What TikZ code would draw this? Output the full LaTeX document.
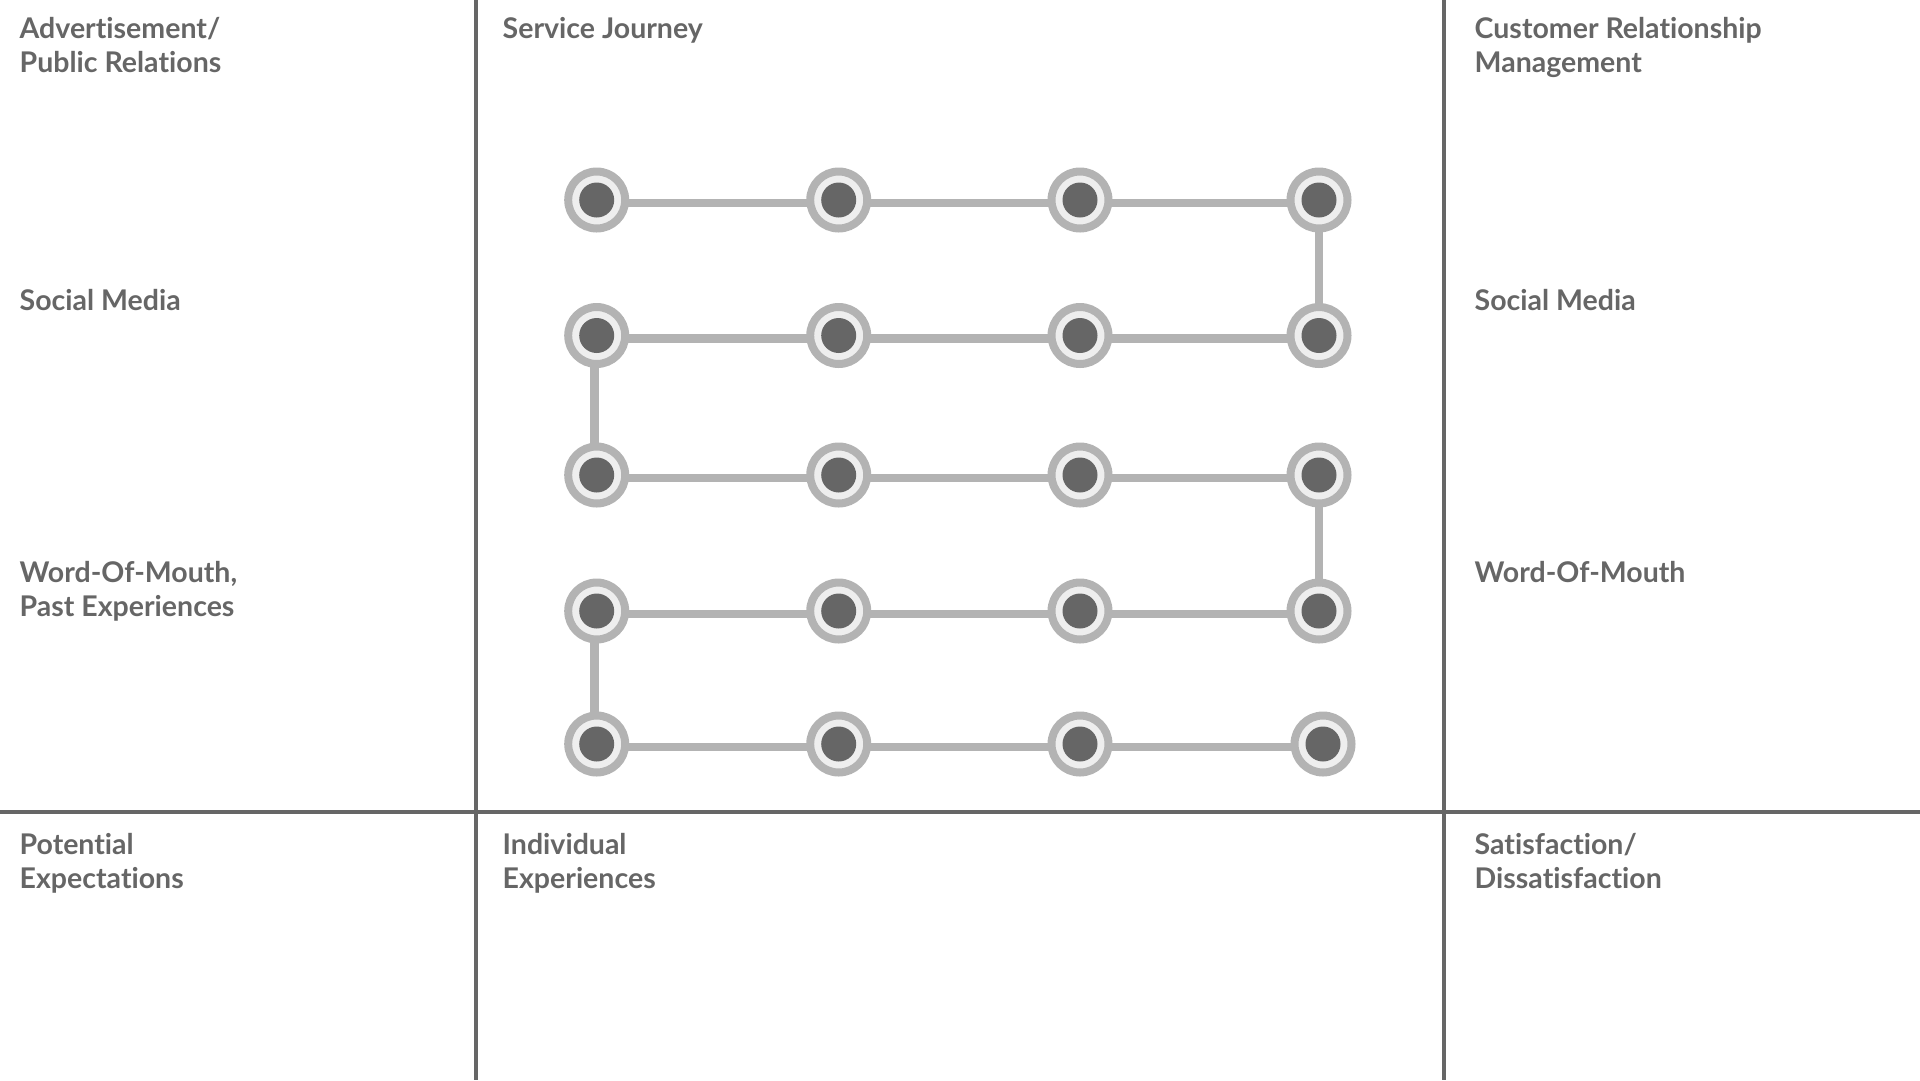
\documentclass[tikz,border=0pt]{standalone}
\usepackage{fontspec}
\setmainfont{Lato}[Ligatures=NoCommon]
\usetikzlibrary{calc}
\definecolor{txtgrey}{HTML}{666666}
\definecolor{ringgrey}{HTML}{B3B3B3}
\definecolor{lightgrey}{HTML}{EEEEEE}
\definecolor{darkgrey}{HTML}{666666}
\pgfdeclarelayer{bg}
\pgfsetlayers{bg,main}
\tikzset{
  gridline/.style={draw=txtgrey, line width=4pt},
  conn/.style={draw=ringgrey, line width=8.5pt},
  jnode/.style={circle, inner sep=0pt, outer sep=0pt, minimum size=57pt,
    fill=lightgrey, draw=ringgrey, line width=8pt,
    path picture={\fill[darkgrey] (path picture bounding box.center) circle (17.5pt);}},
  label/.style={anchor=base west, inner sep=0pt, text=txtgrey,
    font=\fontsize{28.5}{34}\selectfont\bfseries},
}
\newcommand{\twoline}[2]{\begin{tabular}[t]{@{}l@{}}#1\\#2\end{tabular}}
\begin{document}
\begin{tikzpicture}[x=1pt,y=-1pt]
\useasboundingbox (0,0) rectangle (1920,1080);
% grid
\coordinate (vl1t) at (475.7,0);
\coordinate (vl1b) at (475.7,1080);
\coordinate (vl2t) at (1443.7,0);
\coordinate (vl2b) at (1443.7,1080);
\coordinate (hll) at (0,812);
\coordinate (hlr) at (1920,812);
\draw[gridline] (vl1t) -- (vl1b);
\draw[gridline] (vl2t) -- (vl2b);
\draw[gridline] (hll) -- (hlr);
% labels
\node[label] (t1) at (19.5,38.8) {\twoline{Advertisement/}{Public Relations}};
\node[label] (t2) at (502.5,38.8) {Service Journey};
\node[label] (t3) at (1474.5,38.8) {\twoline{Customer Relationship}{Management}};
\node[label] (t4) at (19.5,310.5) {Social Media};
\node[label] (t5) at (1474.5,310.5) {Social Media};
\node[label] (t6) at (19.5,582.5) {\twoline{Word-Of-Mouth,}{Past Experiences}};
\node[label] (t7) at (1474.5,582.5) {Word-Of-Mouth};
\node[label] (t8) at (19.5,854) {\twoline{Potential}{Expectations}};
\node[label] (t9) at (502.5,854) {\twoline{Individual}{Experiences}};
\node[label] (t10) at (1474.5,854) {\twoline{Satisfaction/}{Dissatisfaction}};
% journey nodes
\foreach \r/\y in {1/200,2/335.5,3/475,4/611,5/744}{
  \foreach \c/\x in {1/596.7,2/838.7,3/1080}{
    \node[jnode] (n\r\c) at (\x,\y) {};
  }
}
\node[jnode] (n14) at (1319,200) {};
\node[jnode] (n24) at (1319,335.5) {};
\node[jnode] (n34) at (1319,475) {};
\node[jnode] (n44) at (1319,611) {};
\node[jnode] (n54) at (1323,744) {};
\begin{pgfonlayer}{bg}
\foreach \r in {1,...,5}{
  \draw[conn] ($(n\r1)+(0,3)$) -- ($(n\r2)+(0,3)$) -- ($(n\r3)+(0,3)$) -- ($(n\r4)+(0,3)$);
}
\draw[conn] (n14) -- (n24);
\draw[conn] ($(n21)+(-2,0)$) -- ($(n31)+(-2,0)$);
\draw[conn] (n34) -- (n44);
\draw[conn] ($(n41)+(-2,0)$) -- ($(n51)+(-2,0)$);
\end{pgfonlayer}
\end{tikzpicture}
\end{document}
